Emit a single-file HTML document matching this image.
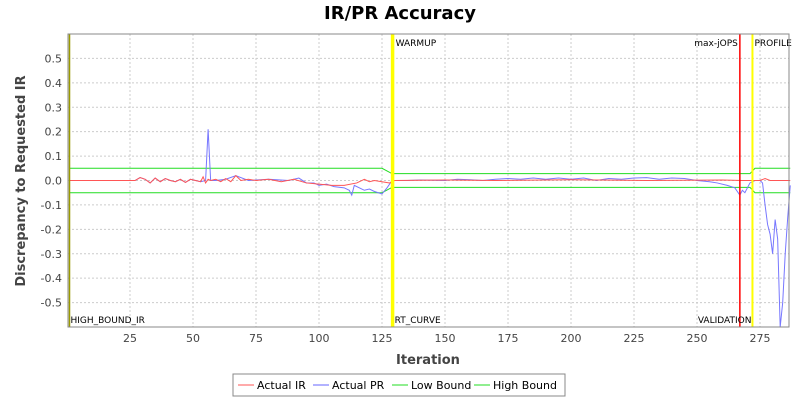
<!DOCTYPE html>
<html><head><meta charset="utf-8"><style>
html,body{margin:0;padding:0;background:#fff;width:800px;height:400px;overflow:hidden}
svg{font-family:"DejaVu Sans","Liberation Sans",sans-serif}
</style></head><body>
<svg id="chart" width="800" height="400">
<text x="400" y="19" text-anchor="middle" font-size="18" font-weight="bold">IR/PR Accuracy</text>
<text x="428" y="364" text-anchor="middle" font-size="13" font-weight="bold" fill="#444">Iteration</text>
<text transform="translate(25,181) rotate(-90)" text-anchor="middle" font-size="13" font-weight="bold" fill="#444">Discrepancy to Requested IR</text>
<g id="grid"></g>
<g id="marks"></g>
<g id="axes"></g>
<g font-size="11">
<rect x="233" y="374" width="332" height="22" fill="#fff" stroke="#888"/>
<g><line x1="238" y1="385" x2="254" y2="385" stroke="#ff5555"/><text x="257" y="389">Actual IR</text></g>
<g><line x1="313" y1="385" x2="329" y2="385" stroke="#6666ff"/><text x="332" y="389">Actual PR</text></g>
<g><line x1="392" y1="385" x2="408" y2="385" stroke="#22dd22"/><text x="411" y="389">Low Bound</text></g>
<g><line x1="474" y1="385" x2="490" y2="385" stroke="#22dd22"/><text x="493" y="389">High Bound</text></g>
</g>
</svg>
<script>
const xTicks=[25,50,75,100,125,150,175,200,225,250,275];
const yTicks=[-0.5,-0.4,-0.3,-0.2,-0.1,0.0,0.1,0.2,0.3,0.4,0.5];
const irX=[1,27,29,31,33,35,37,39,41,43,45,47,49,51,53,54,55,56,57,59,61,63,65,67,69,72,75,80,85,90,95,100,105,110,115,118,120,122,125,128,130,150,170,200,230,260,268,272,275,277,279,287];
const irY=[0,0,0.012,0.005,-0.01,0.01,-0.005,0.008,0,-0.005,0.005,-0.008,0.005,0,-0.005,0.015,-0.01,0.005,0,0.005,-0.005,0.008,-0.005,0.02,0,0.005,0,0.005,-0.005,0.005,-0.01,-0.015,-0.02,-0.02,-0.01,0.005,-0.005,0,-0.005,-0.01,0,0.002,0,0.003,0,0.002,0,0,0,0.008,0,0];
const prX=[1,27,29,31,33,35,37,39,41,43,45,47,49,51,53,55,56,57,59,63,67,72,80,88,92,95,98,100,103,106,110,112,113,114,118,120,122,125,127,129,135,140,150,155,160,165,170,175,180,185,190,195,200,205,210,215,220,225,230,235,240,245,250,255,258,262,265,266,267,268,269,270,271,273,275,276,277,278,279,280,281,282,283,284,285,286,287];
const prY=[0,0,0.012,0.005,-0.01,0.01,-0.005,0.008,0,-0.005,0.005,-0.008,0.005,0,-0.005,0,0.21,0,0,0.005,0.02,0,0.005,0,0.01,-0.01,-0.01,-0.02,-0.015,-0.025,-0.03,-0.04,-0.06,-0.02,-0.04,-0.035,-0.045,-0.055,-0.03,0,0,0.002,0,0.005,0.003,0,0.005,0.008,0.005,0.01,0.005,0.01,0.005,0.01,0,0.008,0.005,0.01,0.012,0.005,0.01,0.008,0,-0.005,-0.01,-0.02,-0.03,-0.045,-0.06,-0.04,-0.05,-0.03,-0.01,0,0,-0.01,-0.1,-0.18,-0.22,-0.3,-0.16,-0.24,-0.6,-0.5,-0.3,-0.15,-0.02];
const lowX=[1,125,129,271,273,287];
const lowY=[-0.05,-0.05,-0.028,-0.028,-0.05,-0.05];
const highX=[1,125,129,271,273,287];
const highY=[0.05,0.05,0.028,0.028,0.05,0.05];
const markerX=[1,129.2,267,272];
const markerColor=["#999900","#ffff00","#ff0000","#ffff00"];
const markerWidth=[1.5,3.5,1.5,2];
const topLabels=[["WARMUP",129.6,"start"],["max-jOPS",267,"end"],["PROFILE",272,"start"]];
const bottomLabels=[["HIGH_BOUND_IR",1,"start"],["RT_CURVE",129.6,"start"],["VALIDATION",272,"end"]];

const L=68,R=789,T=34,B=327,XMIN=0.4,XMAX=286.5,YMIN=-0.6,YMAX=0.6;
const sx=v=>L+(v-XMIN)/(XMAX-XMIN)*(R-L);
const sy=v=>B-(v-YMIN)/(YMAX-YMIN)*(B-T);
const NS="http://www.w3.org/2000/svg";
function mk(tag,attrs,parent){const e=document.createElementNS(NS,tag);for(const k in attrs)e.setAttribute(k,attrs[k]);parent.appendChild(e);return e;}
const grid=document.getElementById('grid'),marks=document.getElementById('marks'),axes=document.getElementById('axes');
mk('rect',{x:L,y:T,width:R-L,height:B-T,fill:'#fff'},grid);
xTicks.forEach(t=>{const l=mk('line',{x1:sx(t),x2:sx(t),y1:T,y2:B,stroke:'#ccc','stroke-dasharray':'2,2'},grid);


const tx=mk('text',{x:sx(t),y:B+15,'text-anchor':'middle','font-size':11,fill:'#444'},axes);tx.textContent=t;

});
yTicks.forEach(t=>{const l=mk('line',{x1:L,x2:R,y1:sy(t),y2:sy(t),stroke:'#ccc','stroke-dasharray':'2,2'},grid);


const tx=mk('text',{x:L-6,y:sy(t)+4,'text-anchor':'end','font-size':11,fill:'#444'},axes);tx.textContent=t.toFixed(1);

});
mk('rect',{x:L,y:T,width:R-L,height:B-T,fill:'none',stroke:'#888'},axes);
function line(xs,ys,color,name){const p=mk('polyline',{points:xs.map((x,i)=>sx(x)+','+sy(ys[i])).join(' '),fill:'none',stroke:color,'stroke-width':1},marks);

}
line(lowX,lowY,'#22dd22','low-bound-line');
line(highX,highY,'#22dd22','high-bound-line');
line(prX,prY,'#7777ff','actual-pr-line');
line(irX,irY,'#ff5555','actual-ir-line');
markerX.forEach((x,i)=>{const l=mk('line',{x1:sx(x),x2:sx(x),y1:T,y2:B,stroke:markerColor[i],'stroke-width':markerWidth[i]},marks);

});
topLabels.forEach(([s,x,a])=>{const t=mk('text',{x:sx(x)+(a=='start'?2:-2),y:T+12,'text-anchor':a,'font-size':9},marks);t.textContent=s;

});
bottomLabels.forEach(([s,x,a])=>{const t=mk('text',{x:sx(x)+(a=='start'?1:-1),y:B-4,'text-anchor':a,'font-size':9},marks);t.textContent=s;

});
</script>
</body></html>
